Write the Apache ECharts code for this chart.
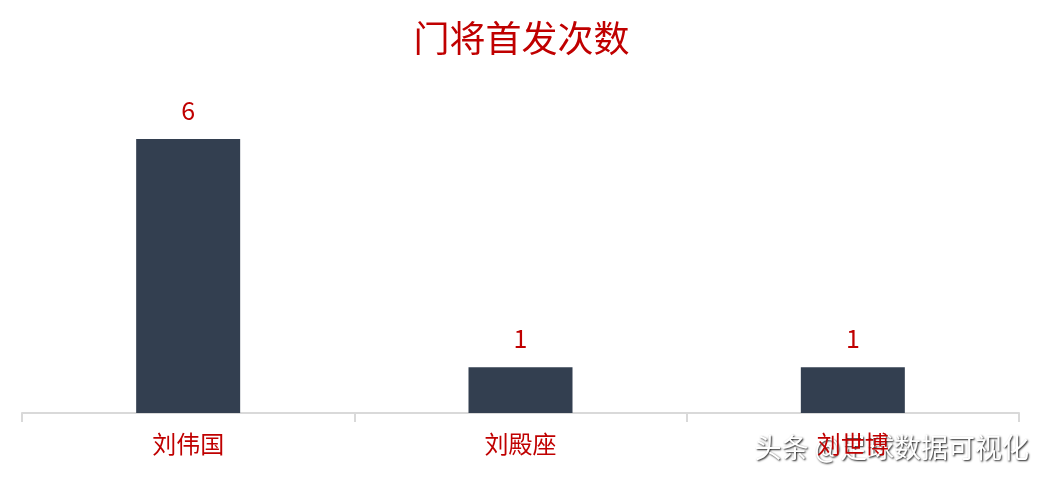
<!DOCTYPE html>
<html><head><meta charset="utf-8">
<script src="https://cdn.jsdelivr.net/npm/echarts@6/dist/echarts.min.js"></script>
<style>html,body{margin:0;padding:0;background:#fff}#c{width:1043px;height:479px}</style>
</head><body><div id="c"></div>
<script>
var titleText = '门将首发次数';
var categories = ['刘伟国', '刘殿座', '刘世博'];
var values = [6, 1, 1];
var watermark = '头条 @足球数据可视化';
var font = '"Noto Sans CJK SC", "Microsoft YaHei", sans-serif';
var chart = echarts.init(document.getElementById('c'));
chart.setOption({
  animation: false,
  backgroundColor: '#fff',
  title: { text: titleText, left: 'center', top: 15, textStyle: { color: '#C00000', fontSize: 36, fontWeight: 'normal', fontFamily: font } },
  grid: { left: 22, right: 24, top: 139, bottom: 66 },
  xAxis: {
    type: 'category', data: categories,
    axisLine: { lineStyle: { color: '#D9D9D9', width: 2 } },
    axisTick: { show: true, length: 9, lineStyle: { color: '#D9D9D9', width: 2 } },
    axisLabel: { color: '#C00000', fontSize: 24, margin: 19, fontFamily: font }
  },
  yAxis: { type: 'value', min: 0, max: 6, show: false, splitLine: { show: false } },
  series: [{
    type: 'bar', data: values, barWidth: 104,
    itemStyle: { color: '#333F50' },
    label: { show: true, position: 'top', distance: 16, color: '#C00000', fontSize: 25, fontFamily: font }
  }],
  graphic: [{
    type: 'text', right: 14, top: 434,
    style: { text: watermark, fill: '#fff', fontSize: 27, fontFamily: font,
      textShadowColor: 'rgba(0,0,0,0.9)', textShadowBlur: 2, textShadowOffsetX: 1, textShadowOffsetY: 1 }
  }]
});
</script></body></html>
